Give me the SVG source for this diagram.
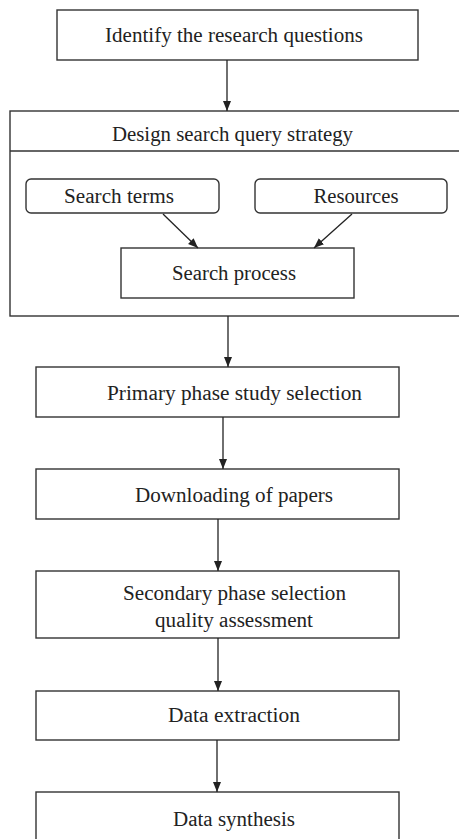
<svg xmlns="http://www.w3.org/2000/svg" width="459" height="839" viewBox="0 0 459 839">
<style>
.box{fill:#fff;stroke:#333;stroke-width:1.4}
.t{font-family:"Liberation Serif","Times New Roman",serif;font-size:20.5px;fill:#222;text-anchor:middle}
.c{stroke:#222;stroke-width:1.3;fill:none;marker-end:url(#ah)}
</style>
<defs>
<marker id="ah" markerUnits="userSpaceOnUse" markerWidth="11" markerHeight="9" refX="10" refY="4" orient="auto">
<path d="M0,0 L10,4 L0,8 z" fill="#222"/>
</marker>
</defs>
<rect width="459" height="839" fill="#fff"/>
<g id="n1"><rect class="box" x="57" y="10" width="361" height="50"/><text class="t" x="234" y="42" textLength="258" lengthAdjust="spacingAndGlyphs">Identify the research questions</text></g>
<g id="n2"><rect class="box" x="10" y="111" width="460" height="205"/><line x1="10" y1="151" x2="459" y2="151" stroke="#333" stroke-width="1.4"/><text class="t" x="232.5" y="141" textLength="241" lengthAdjust="spacingAndGlyphs">Design search query strategy</text></g>
<g id="n3"><rect class="box" x="26" y="179" width="193" height="34" rx="5"/><text class="t" x="119" y="203" textLength="110" lengthAdjust="spacingAndGlyphs">Search terms</text></g>
<g id="n4"><rect class="box" x="255" y="179" width="192" height="34" rx="5"/><text class="t" x="356" y="203" textLength="85" lengthAdjust="spacingAndGlyphs">Resources</text></g>
<g id="n5"><rect class="box" x="121" y="248" width="233" height="50"/><text class="t" x="234" y="280" textLength="124" lengthAdjust="spacingAndGlyphs">Search process</text></g>
<g id="n6"><rect class="box" x="36" y="367" width="363" height="50"/><text class="t" x="234.5" y="400" textLength="255" lengthAdjust="spacingAndGlyphs">Primary phase study selection</text></g>
<g id="n7"><rect class="box" x="36" y="469" width="363" height="50"/><text class="t" x="234" y="502" textLength="198" lengthAdjust="spacingAndGlyphs">Downloading of papers</text></g>
<g id="n8"><rect class="box" x="36" y="571" width="363" height="67"/><text class="t" x="234.5" y="600" textLength="223" lengthAdjust="spacingAndGlyphs">Secondary phase selection</text><text class="t" x="234" y="627" textLength="158" lengthAdjust="spacingAndGlyphs">quality assessment</text></g>
<g id="n9"><rect class="box" x="36" y="691" width="363" height="49"/><text class="t" x="234" y="722" textLength="132" lengthAdjust="spacingAndGlyphs">Data extraction</text></g>
<g id="n10"><rect class="box" x="36" y="792" width="363" height="60"/><text class="t" x="234" y="826" textLength="122" lengthAdjust="spacingAndGlyphs">Data synthesis</text></g>
<g id="connectors">
<line class="c" x1="227" y1="60" x2="227" y2="111"/>
<line class="c" x1="163" y1="214" x2="198" y2="248"/>
<line class="c" x1="352" y1="214" x2="314" y2="248"/>
<line class="c" x1="228" y1="316" x2="228" y2="367"/>
<line class="c" x1="223" y1="417" x2="223" y2="469"/>
<line class="c" x1="218" y1="519" x2="218" y2="571"/>
<line class="c" x1="218" y1="638" x2="218" y2="691"/>
<line class="c" x1="217" y1="740" x2="217" y2="792"/>
</g>
</svg>
